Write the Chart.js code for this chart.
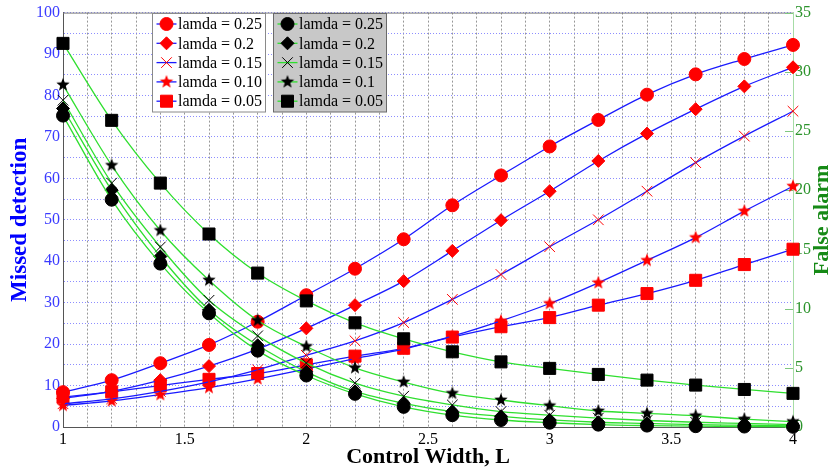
<!DOCTYPE html>
<html>
<head>
<meta charset="utf-8">
<script src="https://cdn.jsdelivr.net/npm/chart.js@4/dist/chart.umd.min.js"></script>
<style>
  body { margin: 0; background: #fff; }
  #wrap { width: 831px; height: 471px; }
</style>
</head>
<body>
<div id="wrap"><canvas id="lamdaChart" width="831" height="471"></canvas></div>
<script>
// Control width L (x values)
const widths = [1, 1.2, 1.4, 1.6, 1.8, 2, 2.2, 2.4, 2.6, 2.8, 3, 3.2, 3.4, 3.6, 3.8, 4];

// Missed detection (left axis), one list per lamda
const missed025 = [8.4, 11.3, 15.4, 19.8, 25.4, 31.8, 38.2, 45.3, 53.5, 60.7, 67.7, 74.1, 80.2, 85.1, 88.8, 92.2];
const missed020 = [6.9, 8.6, 11.3, 14.7, 18.8, 23.8, 29.4, 35.2, 42.5, 49.9, 56.9, 64.2, 70.8, 76.7, 82.2, 86.8];
const missed015 = [5.6, 6.8, 8.6, 10.9, 13.8, 17.3, 20.8, 25.2, 30.8, 36.8, 43.5, 50.0, 56.9, 63.8, 70.2, 76.2];
const missed010 = [5.2, 6.3, 7.8, 9.5, 11.6, 14.0, 16.5, 18.8, 21.9, 25.6, 29.8, 34.8, 40.2, 45.7, 52.1, 58.1];
const missed005 = [7.2, 8.5, 10.0, 11.5, 12.9, 15.0, 17.1, 19.0, 21.7, 24.2, 26.4, 29.4, 32.2, 35.4, 39.2, 42.9];

// False alarm (right axis), one list per lamda
const alarm025 = [26.3, 19.2, 13.8, 9.6, 6.45, 4.35, 2.8, 1.7, 1.0, 0.59, 0.36, 0.2, 0.12, 0.07, 0.04, 0.02];
const alarm020 = [26.9, 20.0, 14.4, 9.9, 6.9, 4.66, 3.0, 2.0, 1.3, 0.9, 0.6, 0.4, 0.3, 0.2, 0.15, 0.1];
const alarm015 = [27.6, 20.6, 15.2, 10.7, 7.7, 5.4, 3.7, 2.6, 1.86, 1.3, 1.0, 0.75, 0.55, 0.4, 0.3, 0.2];
const alarm010 = [28.9, 22.1, 16.6, 12.4, 9.0, 6.8, 5.0, 3.8, 2.84, 2.28, 1.8, 1.35, 1.15, 0.95, 0.67, 0.45];
const alarm005 = [32.4, 25.9, 20.6, 16.3, 13.0, 10.65, 8.8, 7.45, 6.35, 5.5, 4.95, 4.44, 3.96, 3.54, 3.17, 2.84];

const missedLabels = ['lamda = 0.25', 'lamda = 0.2', 'lamda = 0.15', 'lamda = 0.10', 'lamda = 0.05'];
const alarmLabels = ['lamda = 0.25', 'lamda = 0.2', 'lamda = 0.15', 'lamda = 0.1', 'lamda = 0.05'];

const SERIF = "'Liberation Serif', 'Times New Roman', serif";
Chart.defaults.font.family = SERIF;

// filled five point star, used as an image point style
function starImage(color, r) {
    const c = document.createElement('canvas');
    const s = Math.ceil(r * 2 + 2);
    c.width = c.height = s;
    const g = c.getContext('2d');
    g.fillStyle = color;
    g.beginPath();
    for (let i = 0; i < 10; i++) {
        const rad = i % 2 ? r * 0.42 : r;
        const a = -Math.PI / 2 + i * Math.PI / 5;
        g.lineTo(s / 2 + rad * Math.cos(a), s / 2 + rad * Math.sin(a));
    }
    g.closePath();
    g.fill();
    return c;
}

const markers = [
    { style: 'circle', radius: 6.5 },
    { style: 'rectRot', radius: 6.5 },
    { style: 'crossRot', radius: 7.5 },
    { style: 'star', radius: 7 },
    { style: 'rect', radius: 8.5 }
];

function makeSet(label, values, axis, markColor, lineColor, m, group) {
    const pointStyle = m.style === 'star' ? starImage(markColor, m.radius) : m.style;
    return {
        label,
        group,
        data: values.map((v, i) => ({ x: widths[i], y: v })),
        yAxisID: axis,
        borderColor: lineColor,
        borderWidth: 1.3,
        pointStyle,
        pointRadius: m.radius,
        pointBorderColor: markColor,
        pointBackgroundColor: markColor,
        pointBorderWidth: 1,
        cubicInterpolationMode: 'monotone',
        fill: false,
        clip: false
    };
}

const BLUE_LINE = '#1a1aff';
const GREEN_LINE = '#2fdf2f';
const AXIS_GREEN = '#2b932b';

const missedSeries = [missed025, missed020, missed015, missed010, missed005];
const alarmSeries = [alarm025, alarm020, alarm015, alarm010, alarm005];

// false alarm sets come first so they sit on top of the missed detection marks
const datasets = [
    ...alarmSeries.map((vals, i) => makeSet(alarmLabels[i], vals, 'yR', '#000000', GREEN_LINE, markers[i], 'alarm')),
    ...missedSeries.map((vals, i) => makeSet(missedLabels[i], vals, 'yL', '#ff0000', BLUE_LINE, markers[i], 'missed'))
];

function drawMarker(ctx, ds, x, y) {
    ctx.save();
    ctx.fillStyle = ds.pointBackgroundColor;
    ctx.strokeStyle = ds.pointBorderColor;
    ctx.lineWidth = 1;
    Chart.helpers.drawPoint(ctx, { pointStyle: ds.pointStyle, radius: ds.pointRadius, rotation: 0, borderWidth: 1 }, x, y);
    ctx.restore();
}

// two boxed legends inside the plot, one per axis
const twinLegend = {
    id: 'twinLegend',
    afterDatasetsDraw(chart) {
        const ctx = chart.ctx;
        const boxes = [
            { group: 'missed', x: 152.5, fill: '#ffffff', stroke: '#8a8a8a', line: BLUE_LINE },
            { group: 'alarm', x: 273.5, fill: '#c8c8c8', stroke: '#6a6a6a', line: GREEN_LINE }
        ];
        boxes.forEach(b => {
            const sets = chart.data.datasets.filter(d => d.group === b.group);
            ctx.save();
            ctx.fillStyle = b.fill;
            ctx.fillRect(b.x, 13.5, 113, 98.5);
            ctx.strokeStyle = b.stroke;
            ctx.lineWidth = 1;
            ctx.strokeRect(b.x, 13.5, 113, 98.5);
            sets.forEach((ds, i) => {
                const y = 24 + i * 19.3;
                ctx.strokeStyle = b.line;
                ctx.lineWidth = 1.3;
                ctx.beginPath();
                ctx.moveTo(b.x + 4, y);
                ctx.lineTo(b.x + 24, y);
                ctx.stroke();
                drawMarker(ctx, ds, b.x + 14, y);
                ctx.fillStyle = '#000';
                ctx.font = '16px ' + SERIF;
                ctx.textBaseline = 'middle';
                ctx.textAlign = 'left';
                ctx.fillText(ds.label, b.x + 25.5, y + 1);
            });
            ctx.restore();
        });
    }
};

// top edge of the frame, inward ticks on the right axis and its title
const frameExtras = {
    id: 'frameExtras',
    beforeDatasetsDraw(chart) {
        const { ctx, chartArea: a } = chart;
        ctx.save();
        ctx.strokeStyle = '#7a7a7a';
        ctx.lineWidth = 1;
        ctx.beginPath();
        ctx.moveTo(a.left, a.top + 0.5);
        ctx.lineTo(a.right, a.top + 0.5);
        ctx.stroke();
        const yR = chart.scales.yR;
        ctx.strokeStyle = '#7fc77f';
        ctx.beginPath();
        yR.ticks.forEach(t => {
            const y = Math.round(yR.getPixelForValue(t.value)) + 0.5;
            ctx.moveTo(a.right - 8, y);
            ctx.lineTo(a.right, y);
        });
        ctx.stroke();
        ctx.restore();
    },
    afterDraw(chart) {
        const ctx = chart.ctx;
        ctx.save();
        ctx.translate(822, 220);
        ctx.rotate(-Math.PI / 2);
        ctx.fillStyle = '#168a16';
        ctx.font = 'bold 22px ' + SERIF;
        ctx.textAlign = 'center';
        ctx.textBaseline = 'middle';
        ctx.fillText('False alarm', 0, 0);
        ctx.restore();
    }
};

const near = (v, step) => Math.abs(v / step - Math.round(v / step)) < 1e-6;

new Chart(document.getElementById('lamdaChart').getContext('2d'), {
    type: 'line',
    data: { datasets },
    options: {
        responsive: false,
        animation: false,
        devicePixelRatio: 1,
        layout: { padding: { top: 12, left: 0, right: 0, bottom: 0 } },
        plugins: { legend: { display: false }, tooltip: { enabled: false } },
        scales: {
            x: {
                type: 'linear',
                min: 1, max: 4,
                afterFit: s => { s.height = 44; },
                grid: { color: '#8c8c8c', lineWidth: 0.9, drawTicks: false },
                border: { color: '#555', dash: [2, 2] },
                ticks: {
                    stepSize: 0.1, autoSkip: false, maxRotation: 0, padding: 3,
                    color: '#000', font: { size: 16 },
                    callback: v => near(v, 0.5) ? String(Math.round(v * 10) / 10) : ''
                },
                title: {
                    display: true, text: 'Control Width, L', color: '#000',
                    font: { size: 22, weight: 'bold' }, padding: { top: 0, bottom: 0 }
                }
            },
            yL: {
                type: 'linear',
                position: 'left',
                min: 0, max: 100,
                afterFit: s => { s.width = 63; },
                grid: { color: '#8080ff', lineWidth: 0.9, drawTicks: false },
                border: { color: '#555', dash: [1, 2] },
                ticks: {
                    stepSize: 5, autoSkip: false, padding: 3,
                    color: '#3b3bff', font: { size: 16 },
                    callback: v => near(v, 10) ? String(v) : ''
                },
                title: {
                    display: true, text: 'Missed detection', color: '#0000ff',
                    font: { size: 23, weight: 'bold' }, padding: { top: 6, bottom: 2 }
                }
            },
            yR: {
                type: 'linear',
                position: 'right',
                min: 0, max: 35,
                afterFit: s => { s.width = 38; },
                grid: { display: false, drawTicks: false },
                border: { color: '#a6dca6' },
                ticks: {
                    stepSize: 5, autoSkip: false, padding: 2,
                    color: AXIS_GREEN, font: { size: 16 }
                }
            }
        }
    },
    plugins: [frameExtras, twinLegend]
});
</script>
</body>
</html>
